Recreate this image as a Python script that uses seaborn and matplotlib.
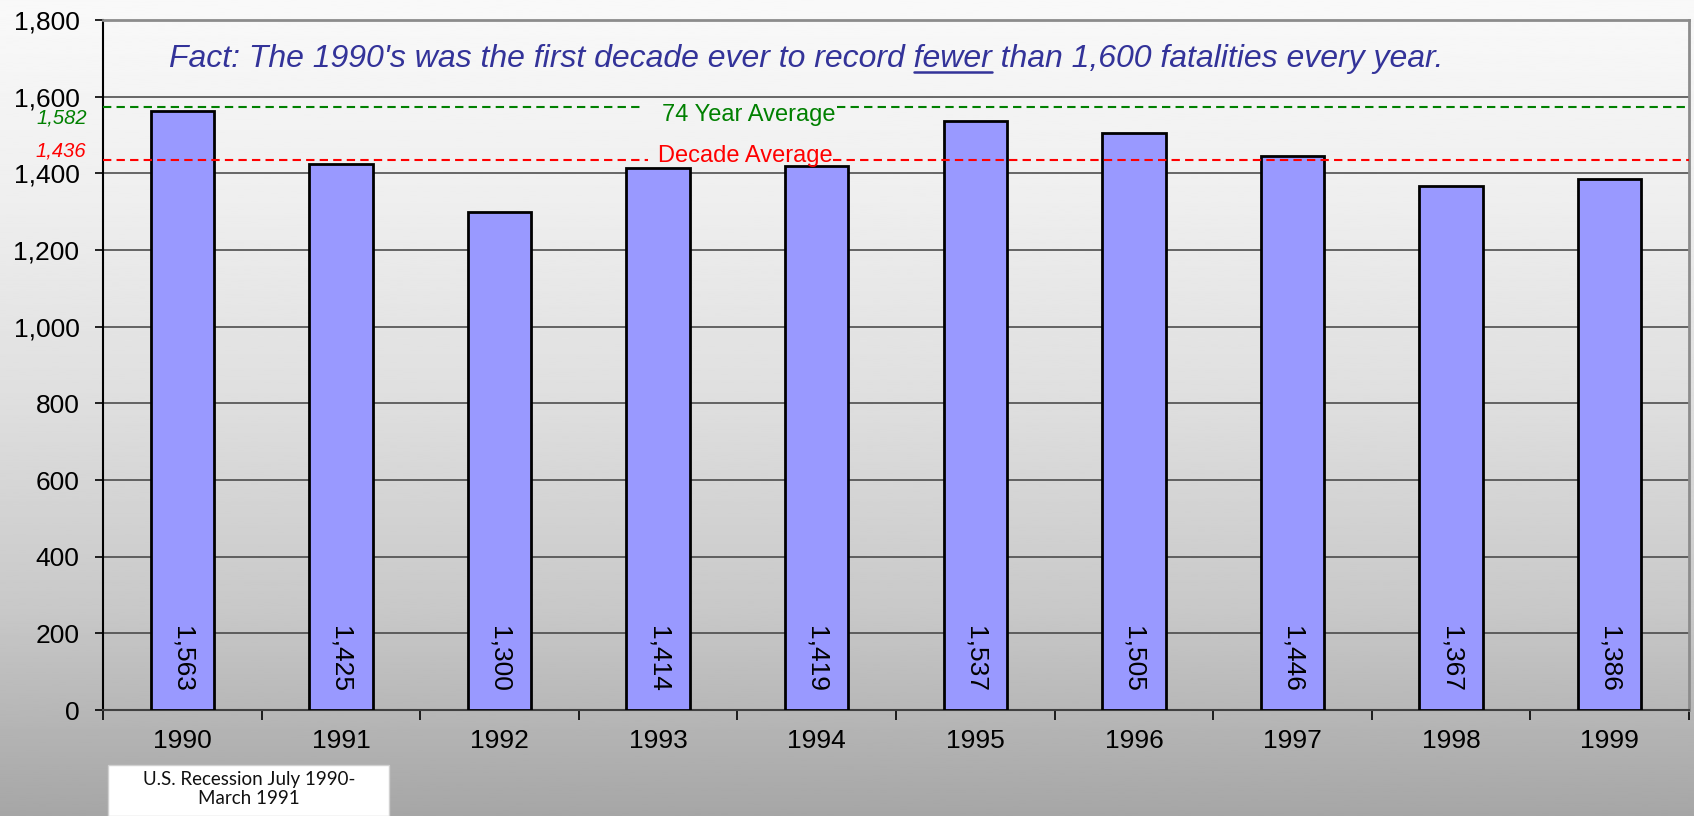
import numpy as np
import pandas as pd
import matplotlib
matplotlib.use("Agg")
import matplotlib.pyplot as plt
import seaborn as sns
from matplotlib.lines import Line2D
from matplotlib.patches import Rectangle
from matplotlib.ticker import FuncFormatter

# data
years = ["1990", "1991", "1992", "1993", "1994", "1995", "1996", "1997", "1998", "1999"]
fatalities = [1563, 1425, 1300, 1414, 1419, 1537, 1505, 1446, 1367, 1386]
avg_74_label = 1582
avg_74_line = 1572      # the original draws its line a little under the stated value
decade_avg = 1436
y_ticks = [0, 200, 400, 600, 800, 1000, 1200, 1400, 1600, 1800]

title_parts = ["Fact: The 1990's was the first decade ever to record ", "fewer",
               " than 1,600 fatalities every year."]
recession_note = "U.S. Recession July 1990-\nMarch 1991"

W, H = 1694, 816
sns.set_theme(style="white")
plt.rcParams['font.family'] = ['Liberation Sans', 'DejaVu Sans']

fig = plt.figure(figsize=(W / 100, H / 100), dpi=100)

# grey vertical gradient behind everything
bg = fig.add_axes([0, 0, 1, 1], zorder=-10)
grad = np.interp(np.linspace(0, 1, 400), [0, 0.25, 0.5, 0.75, 0.86, 1.0],
                 [249, 238, 222, 200, 185, 166]) / 255
bg.imshow(grad[:, None], cmap="gray", vmin=0, vmax=1, aspect="auto",
          extent=(0, 1, 0, 1), origin="upper")
bg.axis("off")

ax = fig.add_axes([103 / W, 1 - 710 / H, 1586 / W, 690 / H])
ax.set_facecolor("none")

df = pd.DataFrame({"year": years, "fatalities": fatalities})
sns.barplot(data=df, x="year", y="fatalities", color="#9999ff", saturation=1,
            edgecolor="black", linewidth=2, width=0.4, ax=ax, zorder=3)

ax.set_xlim(-0.5, 9.5)
ax.set_ylim(0, 1800)
ax.set_yticks(y_ticks)
ax.yaxis.set_major_formatter(FuncFormatter(lambda v, p: f"{int(v):,}"))
ax.set_xticks(np.arange(-0.5, 10, 1), minor=True)
ax.set_xlabel("")
ax.set_ylabel("")
ax.grid(axis="y", color="#404040", lw=1.1)
ax.set_axisbelow(True)

ax.tick_params(axis="y", left=True, length=6, width=1.2, pad=11, labelsize=19,
               color="black", labelcolor="black")
ax.tick_params(axis="x", which="major", bottom=True, length=0, pad=14,
               labelsize=19, labelcolor="black")
ax.tick_params(axis="x", which="minor", bottom=True, length=7, width=1.2, color="black")

ax.spines["left"].set_color("black")
ax.spines["left"].set_linewidth(1.5)
ax.spines["bottom"].set_color("#404040")
ax.spines["bottom"].set_linewidth(1.5)
for s in ["top", "right"]:
    ax.spines[s].set_color("#8c8c8c")
    ax.spines[s].set_linewidth(2)

# value labels inside the bars
for i, v in enumerate(fatalities):
    ax.text(i, 47, f"{v:,}", rotation=270, ha="center", va="bottom",
            fontsize=19, color="black", zorder=5)

# average lines, broken where their caption sits
dash = dict(ls=(0, (4, 2.5)), lw=1.5, zorder=4)
ax.axhline(avg_74_line, xmax=0.3405, color="#008000", **dash)
ax.axhline(avg_74_line, xmin=0.4628, color="#008000", **dash)
ax.axhline(decade_avg, xmax=0.3436, color="#ff0000", **dash)
ax.axhline(decade_avg, xmin=0.4603, color="#ff0000", **dash)

ytr = ax.get_yaxis_transform()
ax.text(0.407, 1553, "74 Year Average", transform=ytr, ha="center", va="center",
        fontsize=17, color="#008000", zorder=6)
ax.text(0.405, 1446, "Decade Average", transform=ytr, ha="center", va="center",
        fontsize=17, color="#ff0000", zorder=6)
ax.text(-0.0101, 1544, f"{avg_74_label:,}", transform=ytr, ha="right", va="center",
        fontsize=14.5, style="italic", color="#008000", clip_on=False)
ax.text(-0.0108, 1458, f"{decade_avg:,}", transform=ytr, ha="right", va="center",
        fontsize=14.5, style="italic", color="#ff0000", clip_on=False)

# title sentence with "fewer" underlined
tx, ty = 0.0416, 1677
title_kw = dict(transform=ytr, ha="left", va="baseline", fontsize=23,
                style="italic", color="#333399")
ax.text(tx, ty, "".join(title_parts), zorder=6, **title_kw)
probe = ax.text(tx, ty, title_parts[0] + title_parts[1], alpha=0, **title_kw)
word = ax.text(tx, ty, title_parts[1], alpha=0, **title_kw)
fig.canvas.draw()
r = fig.canvas.get_renderer()
x_end = probe.get_window_extent(r).x1
x_start = x_end - word.get_window_extent(r).width
probe.remove()
word.remove()
y_line = H - 72
fig.add_artist(Line2D([x_start / W, x_end / W], [y_line / H, y_line / H],
                      transform=fig.transFigure, color="#333399", lw=1.8))

# recession note box
fig.add_artist(Rectangle((108 / W, 0), 281 / W, 51 / H,
                         transform=fig.transFigure, fc="white", ec="#d0d0d0", lw=1))
fig.text(249 / W, 1 - 789 / H, recession_note, ha="center", va="center",
         fontsize=13.5, family=["Lato", "DejaVu Sans"], linespacing=1.2, color="#111111")

fig.savefig("out.png", dpi=100)
